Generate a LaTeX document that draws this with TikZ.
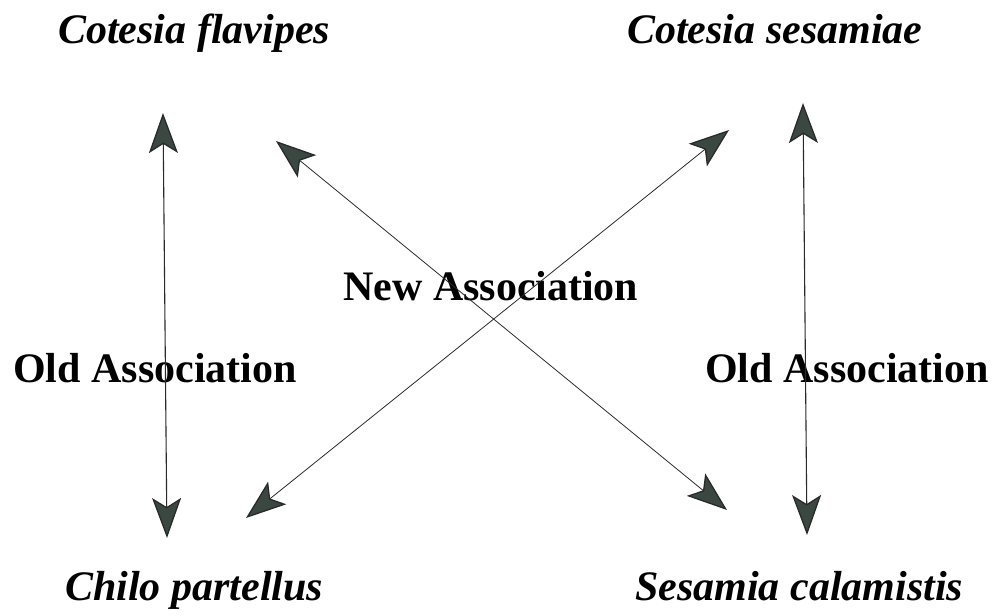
\documentclass[tikz,border=0pt]{standalone}
\usepackage{fontspec}
\setmainfont{Liberation Serif}
\usetikzlibrary{arrows.meta}
\definecolor{tipfill}{HTML}{3B4842}
\definecolor{linegray}{HTML}{2A2A2A}
\tikzset{
  lbl/.style={font=\fontsize{42}{48}\selectfont\bfseries, inner sep=0pt, anchor=base west},
  species/.style={lbl, font=\fontsize{42}{48}\selectfont\bfseries\itshape},
  bigtip/.tip={Stealth[length=40pt, width=29pt, inset=9pt, fill=tipfill, line width=1.3pt]},
  assoc/.style={draw=linegray, line width=1.1pt, {bigtip}-{bigtip}},
  newassoc/.style={draw=linegray, line width=0.8pt, {bigtip}-{bigtip}},
}
\begin{document}
\begin{tikzpicture}[x=1pt, y=-1pt]
\useasboundingbox (0,0) rectangle (992,615);
% species labels
\node[species] (cf) at (58,44) {Cotesia flavipes};
\node[species] (cs) at (627,44) {Cotesia sesamiae};
\node[species] (cp) at (65,600) {Chilo partellus};
\node[species] (sc) at (635,600) {Sesamia calamistis};
% arrow end points
\coordinate (lt) at (163,113);
\coordinate (lb) at (167,538);
\coordinate (rt) at (803,103);
\coordinate (rb) at (807,535);
\coordinate (nw) at (276,141);
\coordinate (se) at (727,510);
\coordinate (ne) at (729,130);
\coordinate (sw) at (246,518);
% association labels
\node[lbl] (oal) at (13,382) {Old Association};
\node[lbl] (oar) at (705,382) {Old Association};
\node[lbl] (na) at (343,300) {New Association};
% connectors
\draw[assoc] (lt) -- (lb);
\draw[assoc] (rt) -- (rb);
\draw[newassoc] (nw) -- (se);
\draw[newassoc] (ne) -- (sw);
\end{tikzpicture}
\end{document}
